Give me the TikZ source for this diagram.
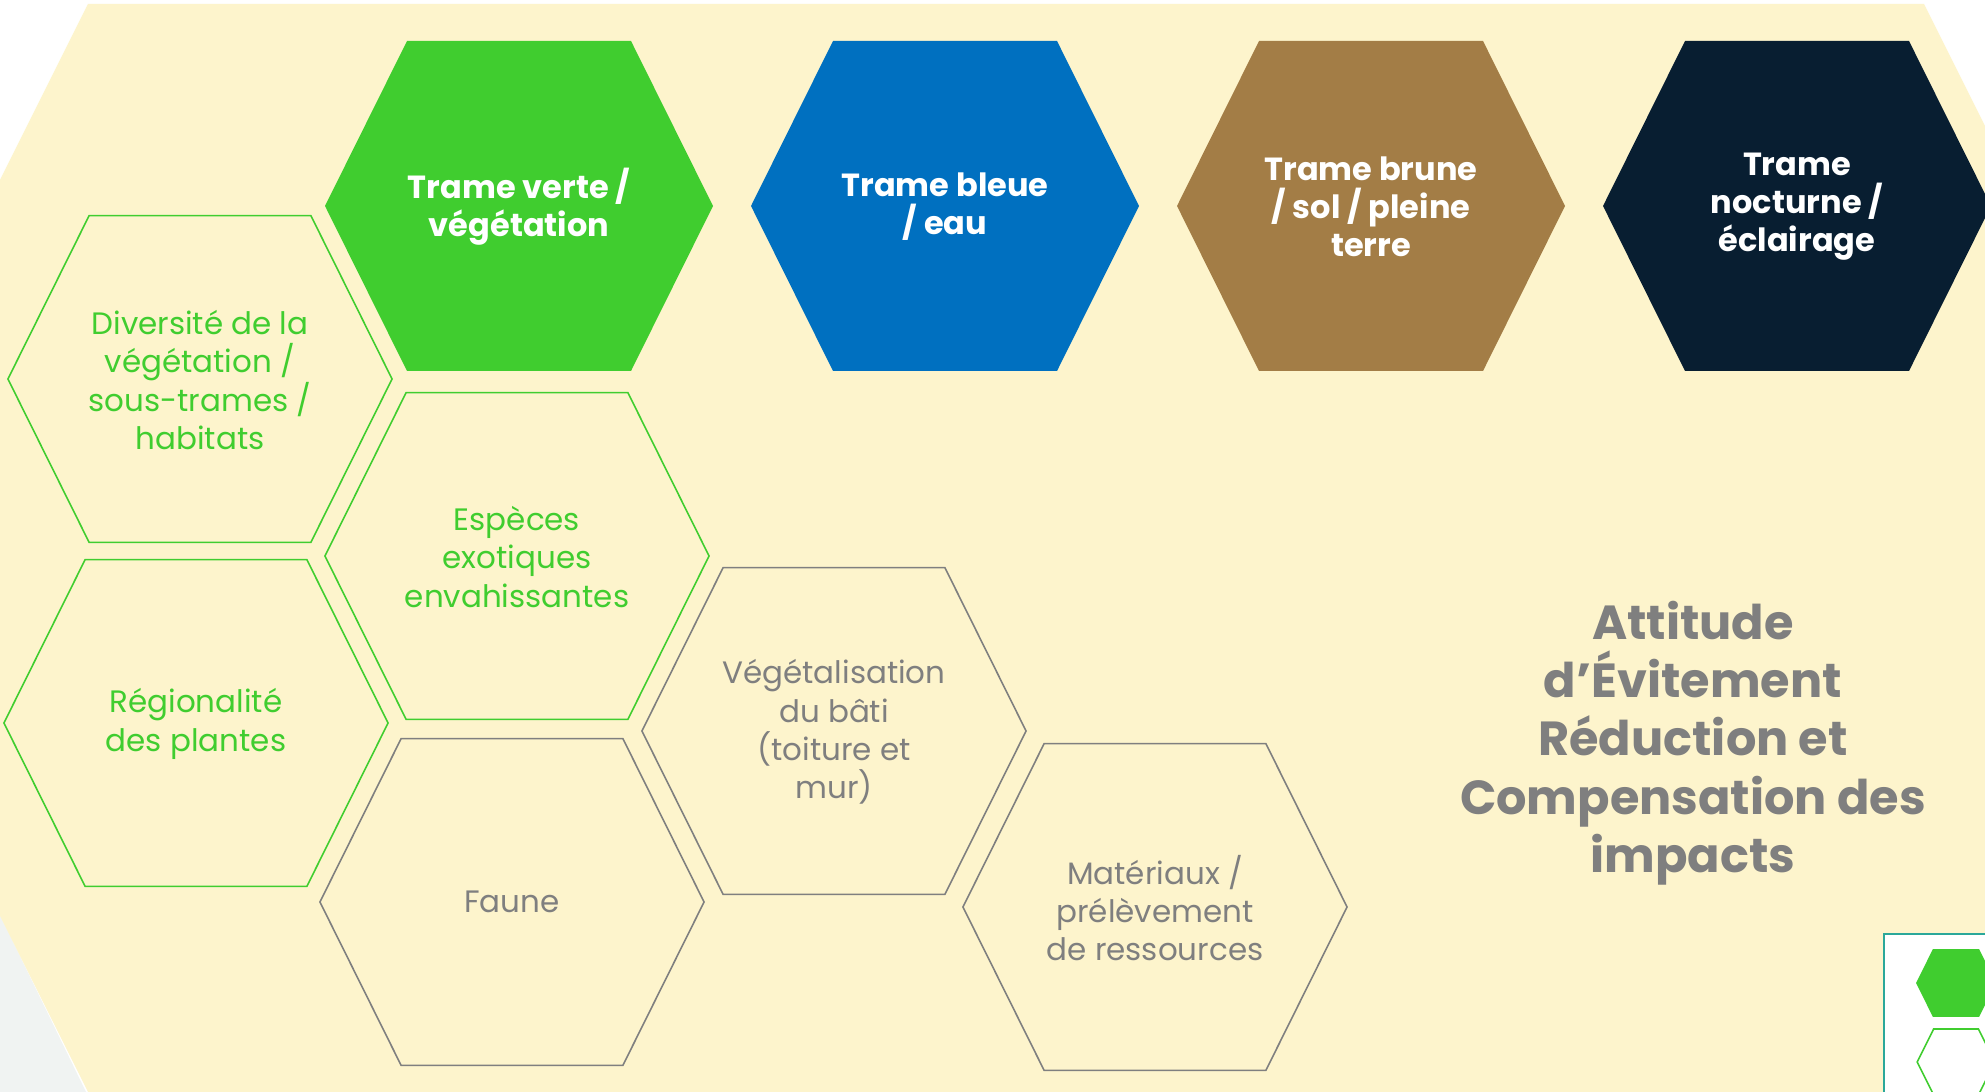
\documentclass[tikz,border=0pt]{standalone}
\usepackage{fontspec}
\setmainfont{Poppins}
\definecolor{bgyellow}{HTML}{FDF4CC}
\definecolor{bgmist}{HTML}{F0F3F2}
\definecolor{vgreen}{HTML}{40CD2F}
\definecolor{vblue}{HTML}{0070C0}
\definecolor{vbrown}{HTML}{A37D46}
\definecolor{vnight}{HTML}{081E31}
\definecolor{vgrey}{HTML}{7F7F7F}
\definecolor{vteal}{HTML}{2BA89A}
\tikzset{
	pics/hexa/.style={code={\path[pic actions] (-194,0) -- (-112,-165) -- (112,-165) -- (194,0) -- (112,165) -- (-112,165) -- cycle;}},
	greenline/.style={draw=vgreen, line width=0.45pt, scale=0.99},
	greyline/.style={draw=vgrey, line width=0.45pt, scale=0.99},
	trame/.style={text=white, align=center, font=\bfseries\fontsize{9.1}{10.8}\selectfont},
	theme/.style={align=center, font=\fontsize{8.8}{10.9}\selectfont},
}

\begin{document}
\begin{tikzpicture}[x=0.01cm, y=-0.01cm]
		\useasboundingbox (0,0) rectangle (1985,1092);
		\fill[white] (0,0) rectangle (1985,1092);
		\fill[bgmist] (0,915) -- (86,1092) -- (0,1092) -- cycle;
		\fill[bgyellow] (-184,548) -- (88,4) -- (1924,4) -- (2196,548) -- (1924,1092) -- (88,1092) -- cycle;
		\foreach \x/\c in {519/vgreen, 945/vblue, 1371/vbrown, 1797/vnight} \pic[fill=\c] at (\x,206) {hexa};
		\foreach \x/\y/\s in {200/379/greenline, 517/556/greenline, 196/723/greenline, 512/902/greyline, 834/731/greyline, 1155/907/greyline} \pic[\s] at (\x,\y) {hexa};
		\node[trame] (tverte) at (519,207) {Trame verte /\\végétation};
		\node[trame] (tbleue) at (945,207) {Trame bleue\\/ eau};
		\node[trame] (tbrune) at (1371,207) {Trame brune\\/ sol / pleine\\terre};
		\node[trame] (tnuit) at (1797,207) {Trame\\nocturne /\\éclairage};
		\node[theme, text=vgreen] (diversite) at (200,380) {Diversité de la\\végétation /\\sous-trames /\\habitats};
		\node[theme, text=vgreen] (especes) at (517,557) {Espèces\\exotiques\\envahissantes};
		\node[theme, text=vgreen] (region) at (196,724) {Régionalité\\des plantes};
		\node[theme, text=vgrey] (faune) at (512,902) {Faune};
		\node[theme, text=vgrey] (vegeta) at (834,732) {Végétalisation\\du bâti\\(toiture et\\mur)};
		\node[theme, text=vgrey] (materiaux) at (1155,908) {Matériaux /\\prélèvement\\de ressources};
		\node[text=vgrey, align=center, font=\bfseries\fontsize{13.6}{16.6}\selectfont] (titre) at (1693,743) {Attitude\\d’Évitement\\Réduction et\\Compensation des\\impacts};
		\draw[vteal, fill=white, line width=0.6pt] (1884,934) rectangle (2000,1110);
		\pic[fill=vgreen, scale=0.206] at (1956,983) {hexa};
		\pic[draw=vgreen, line width=0.45pt, scale=0.2] at (1956,1062) {hexa};
\end{tikzpicture}
\end{document}
